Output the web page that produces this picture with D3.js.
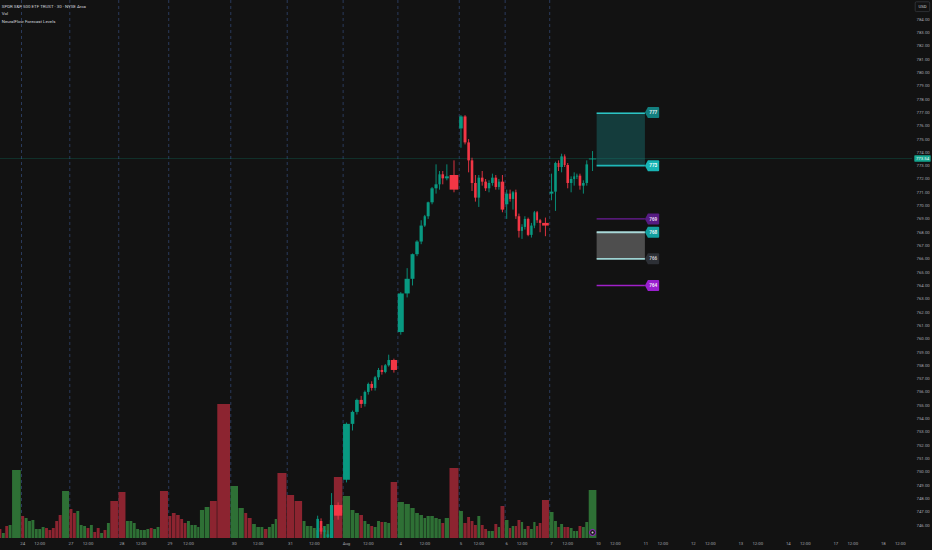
<!DOCTYPE html>
<html><head><meta charset="utf-8">
<script src="https://cdn.jsdelivr.net/npm/d3@7"></script>
<style>html,body{margin:0;padding:0;background:#121212;overflow:hidden}svg{display:block}</style>
</head><body>
<svg id="c" width="932" height="550"></svg>
<script>
// ---------------- DATA ----------------
const sessions = ["23","24","27","28","29","30","31","Aug","4","5","6","7"];
// bar duration (in 30-min slot units) per session
const spans = [
  [1,1,1,1,2.7],
  [1,1,1,1,1,1,1,1,1,1,1,1,2.2],
  [1,1,1,1,1,1,1,1,1,1,1,1,2.4],
  [2.2,1,1,1,1,1,1,1,1,1,1,2.5],
  [1,1.25,1.2,1,1,1,1,1,0.8,1.4,1.55,2.15,3.9],
  [2.35,1.7,1,1.3,1.25,1.2,1,1.2,1,1,0.8,2.8],
  [2.25,2.35,1,1,1,1,1,1,1,1,1.2,2.65],
  [2.25,1.3,1.3,1.2,1,1,1,1,1,1,1,1,2.05],
  [2,1.75,1.4,1.25,1.2,0.9,1.1,1.2,1.15,0.9,1,1.4,2.8],
  [1.3,1.1,1,1,1,1,1,1,1,1,1,0.8,1.3],
  [1.2,0.8,0.9,0.8,1,0.8,0.9,1,0.95,0.8,0.8,0.95,2.2],
  [1.35,1,0.8,1,0.8,1,1,0.8,0.8,1,1,1,2.4]
];
// volume (100k shares)
const volumes = [
  [9,5,12,13,68],
  [22,20,17,18,9,9,11,10,8,10,17,23,47],
  [29,25,27,13,12,10,13,6,10,5,8,15,37],
  [46,17,17,15,9,8,8,9,10,9,11,47],
  [22,25,23,19,15,17,13,13,11,28,31,37,134],
  [52,30,25,20,14,11,11,9,11,14,19,65],
  [43,37,17,12,12,10,8,10,12,14,18,61],
  [42,28,25,23,17,14,12,11,17,16,16,15,56],
  [36,34,30,25,23,20,22,22,20,19,15,20,70],
  [27,15,21,17,13,22,13,9,7,7,14,11,32],
  [18,10,12,12,18,16,9,12,9,16,12,15,38],
  [26,17,11,14,11,11,10,7,7,12,11,16,48]
];
// up(1)/down(-1) for sessions whose candles are below the visible price range
const volDirs = [
  [-1,1,-1,1,1],
  [-1,1,1,1,1,1,1,-1,-1,-1,-1,-1,1],
  [-1,-1,1,1,1,-1,1,-1,-1,1,-1,1,-1],
  [-1,1,1,1,1,1,1,1,-1,1,1,-1],
  [-1,-1,-1,-1,-1,1,1,1,1,1,1,-1,-1],
  [1,1,-1,-1,1,1,1,-1,1,1,1,-1]
];
// OHLC [open, high, low, close]
const candlesJul31 = [[744.2,744.4,742.3,742.6],[742.6,743.0,741.7,742.0],[742.0,742.8,741.8,742.6],[742.6,743.2,742.4,743.0],
  [743.0,743.6,742.8,743.4],[743.4,744.8,743.2,744.6],[744.6,746.7,744.4,746.46],[746.3,746.5,745.3,745.5],
  [745.5,745.9,745.0,745.6],[745.1,745.6,744.8,745.3],[745.0,748.4,744.9,747.5],[747.5,747.7,746.4,746.7]];
const candlesAug3 = [[749.4,753.7,749.2,753.6],[753.6,754.6,753.1,754.5],[754.5,755.5,754.3,755.4],[755.4,755.7,754.8,755.1],
  [755.1,756.1,754.9,756.0],[756.0,756.7,755.8,756.6],[756.6,756.8,756.1,756.3],[756.3,757.2,756.1,757.1],
  [757.1,757.8,756.9,757.65],[757.65,758.0,757.3,757.5],[757.5,758.1,757.4,758.0],[758.0,758.8,757.9,758.4],[758.4,758.5,757.45,757.65]];
const candlesAug4 = [[760.5,763.5,760.3,763.4],[763.4,765.3,763.1,764.5],[764.5,766.4,764.0,766.35],[766.35,767.4,766.2,767.3],
  [767.3,768.9,767.1,768.5],[768.5,769.3,768.4,769.2],[769.2,770.3,769.0,770.25],[770.25,771.4,770.1,771.3],
  [771.3,773.1,770.9,771.6],[771.6,772.6,771.2,772.35],[772.35,772.6,771.6,772.05],[772.05,773.1,771.9,772.2],[772.3,773.4,771.0,771.2]];
const candlesAug5 = [[775.8,776.8,774.35,776.7],[776.7,776.8,774.6,774.75],[774.75,775.0,772.5,773.4],[773.4,773.6,771.1,771.7],
  [771.7,772.3,770.3,770.6],[770.6,772.3,769.9,772.1],[772.1,772.6,771.5,771.8],[771.8,772.0,771.1,771.3],
  [771.3,771.9,771.0,771.7],[771.7,772.4,771.5,772.1],[772.1,772.3,771.2,771.4],[771.4,772.0,771.2,771.8],[771.8,772.3,769.5,769.7]];
const candlesAug6 = [[770.1,771.2,769.0,770.9],[770.9,771.2,770.3,770.5],[770.5,771.1,769.7,771.0],[771.0,771.2,769.0,769.2],
  [769.2,769.4,767.6,768.1],[768.1,768.6,767.5,768.4],[768.4,769.2,768.2,769.0],[769.0,769.1,767.7,767.8],
  [767.8,768.7,767.6,768.5],[768.5,769.6,768.3,769.5],[769.5,769.6,768.7,768.9],[768.9,769.0,768.0,768.7],[768.7,769.1,767.7,768.5]];
const candlesAug7 = [[770.9,772.4,770.4,771.05],[771.05,773.3,769.6,773.2],[773.2,773.4,772.6,772.9],[772.9,773.9,772.5,773.7],
  [773.7,773.85,772.9,773.05],[773.05,773.2,771.3,771.7],[771.7,772.2,771.0,772.0],[772.0,772.5,771.5,772.2],
  [772.2,772.4,772.0,772.25],[772.25,772.4,771.2,771.5],[771.5,771.9,770.9,771.7],[771.7,773.4,771.5,773.1],[773.5,774.1,772.6,773.54]];
const candleSets = [candlesJul31,candlesAug3,candlesAug4,candlesAug5,candlesAug6,candlesAug7];
const futureSessions = ["10","11","12","13","14","17","18"];
const futureSessionSpan = 13.97;
const lastPrice = 773.54;
const priceTicks = d3.range(746, 785, 1);
// forecast levels
const zoneUpper = [773, 777];
const zoneLower = [766, 768];
const levelLines = [769, 764];
const tagValues = [777, 773, 769, 768, 766, 764];
const tagLabels = ["777","773","769","768","766","764"];
const forecastSpan = 14.2;
const legendLines = ["SPDR S&P 500 ETF TRUST · 30 · NYSE Arca","Vol","NeuralFlow Forecast Levels"];

// ---------------- LAYOUT ----------------
const W=932, H=550, plotR=912, plotB=538, pxPerUnit=3.4, firstSepX=21;
const FONT="Roboto, 'Liberation Sans', sans-serif";
const UP="#089981", DN="#f23645", VUP="#2e7035", VDN="#8c2430";
const svg=d3.select("#c");
svg.append("rect").attr("width",W).attr("height",H).attr("fill","#121212");

const bars=[]; const sessStart=[];
let u=-d3.sum(spans[0]);
const candleFrom = sessions.indexOf("31");
sessions.forEach((s,si)=>{
  sessStart.push(u);
  spans[si].forEach((sp,bi)=>{
    const c = si>=candleFrom ? candleSets[si-candleFrom][bi] : null;
    const dir = c ? (c[3]>=c[0]?1:-1) : volDirs[si][bi];
    bars.push({si,bi,u0:u,u1:u+sp,vol:volumes[si][bi],dir,c});
    u+=sp;
  });
});
const uEnd=u;
const uLeft=-firstSepX/pxPerUnit;
const x=d3.scaleLinear().domain([uLeft, uLeft+plotR/pxPerUnit]).range([0,plotR]);
const y=d3.scaleLinear().domain([746,784]).range([525,19.3]);
const yv=d3.scaleLinear().domain([0,d3.max(bars,d=>d.vol)]).range([plotB,plotB-134]);

const defs=svg.append("defs");
defs.append("clipPath").attr("id","plot").append("rect").attr("x",0).attr("y",0).attr("width",plotR).attr("height",plotB);
const plot=svg.append("g").attr("clip-path","url(#plot)");

// session separators
plot.selectAll("line.sep").data(sessStart.slice(1)).join("line")
  .attr("x1",d=>x(d)+0.5).attr("x2",d=>x(d)+0.5).attr("y1",0).attr("y2",plotB)
  .attr("stroke","#2a3a5c").attr("stroke-width",1).attr("stroke-dasharray","3,3");

// current price line
plot.append("line").attr("x1",0).attr("x2",plotR).attr("y1",y(lastPrice)).attr("y2",y(lastPrice))
  .attr("stroke",UP).attr("stroke-opacity",0.22).attr("stroke-width",1);

// volume
plot.selectAll("rect.vol").data(bars).join("rect")
  .attr("x",d=>x(d.u0)+0.25).attr("width",d=>Math.max(0.6,x(d.u1)-x(d.u0)-0.5))
  .attr("y",d=>yv(d.vol)).attr("height",d=>plotB-yv(d.vol))
  .attr("fill",d=>d.dir>0?VUP:VDN);

// candles
const cb=bars.filter(d=>d.c);
plot.selectAll("line.wick").data(cb).join("line")
  .attr("x1",d=>x((d.u0+d.u1)/2)).attr("x2",d=>x((d.u0+d.u1)/2))
  .attr("y1",d=>y(d.c[1])).attr("y2",d=>y(d.c[2]))
  .attr("stroke",d=>d.c[3]>=d.c[0]?UP:DN).attr("stroke-width",0.9);
plot.selectAll("rect.body").data(cb).join("rect")
  .attr("x",d=>x(d.u0)+0.4).attr("width",d=>Math.max(1.2,x(d.u1)-x(d.u0)-0.8))
  .attr("y",d=>y(Math.max(d.c[0],d.c[3])))
  .attr("height",d=>Math.max(0.9,Math.abs(y(d.c[0])-y(d.c[3]))))
  .attr("fill",d=>d.c[3]>=d.c[0]?UP:DN);

// event marker at last bar
const lb=bars[bars.length-1];
plot.append("circle").attr("cx",x((lb.u0+lb.u1)/2)).attr("cy",plotB-5.5).attr("r",3)
  .attr("fill","#1b1b1b").attr("stroke","#a020d0").attr("stroke-width",1);
plot.append("circle").attr("cx",x((lb.u0+lb.u1)/2)).attr("cy",plotB-5.5).attr("r",1)
  .attr("fill","#cfcfcf");

// forecast zones
const fx0=x(uEnd), fx1=x(uEnd+forecastSpan);
plot.append("rect").attr("x",fx0).attr("width",fx1-fx0).attr("y",y(zoneUpper[1])).attr("height",y(zoneUpper[0])-y(zoneUpper[1]))
  .attr("fill","#1a8c8c").attr("fill-opacity",0.35);
plot.append("line").attr("x1",fx0).attr("x2",fx1).attr("y1",y(zoneUpper[1])+0.8).attr("y2",y(zoneUpper[1])+0.8)
  .attr("stroke","#2cc4c4").attr("stroke-width",1.7);
plot.append("line").attr("x1",fx0).attr("x2",fx1).attr("y1",y(zoneUpper[0])).attr("y2",y(zoneUpper[0]))
  .attr("stroke","#1fb8b8").attr("stroke-width",1.7);
plot.append("rect").attr("x",fx0).attr("width",fx1-fx0).attr("y",y(zoneLower[1])).attr("height",y(zoneLower[0])-y(zoneLower[1]))
  .attr("fill","#4e4e4e");
plot.append("line").attr("x1",fx0).attr("x2",fx1).attr("y1",y(zoneLower[1])).attr("y2",y(zoneLower[1]))
  .attr("stroke","#a9d8d8").attr("stroke-width",1.8);
plot.append("line").attr("x1",fx0).attr("x2",fx1).attr("y1",y(zoneLower[0])).attr("y2",y(zoneLower[0]))
  .attr("stroke","#9ed3d3").attr("stroke-width",1.6);
const lineCols=["#6c1c9a","#a020c8"];
levelLines.forEach((v,i)=>{
  plot.append("line").attr("x1",fx0).attr("x2",fx1).attr("y1",y(v)).attr("y2",y(v))
    .attr("stroke",lineCols[i]).attr("stroke-width",1.4);
});
// tags
const tagCols=["#137f7f","#18b4b4","#561b82","#14a0a0","#2c2f35","#9a1fcf"];
const tagText=["#e6f4f4","#eaffff","#e8dcf2","#e6f4f4","#c8c8c8","#f4e6fa"];
tagValues.forEach((v,i)=>{
  const yc=y(v), hh=5.5, tw=14.3;
  const g=svg.append("g");
  g.append("path").attr("d",`M${fx1},${yc} L${fx1+3},${yc-hh} L${fx1+tw-1},${yc-hh} Q${fx1+tw},${yc-hh} ${fx1+tw},${yc-hh+1} L${fx1+tw},${yc+hh-1} Q${fx1+tw},${yc+hh} ${fx1+tw-1},${yc+hh} L${fx1+3},${yc+hh} Z`)
    .attr("fill",tagCols[i]);
  g.append("text").attr("x",fx1+8.4).attr("y",yc).attr("dy","0.35em").attr("text-anchor","middle")
    .attr("font-family",FONT).attr("font-size",4.6).attr("font-weight","bold").attr("fill",tagText[i]).text(tagLabels[i]);
});

// right price axis
svg.selectAll("text.pt").data(priceTicks).join("text")
  .attr("x",916.5).attr("y",d=>y(d)).attr("dy","0.35em")
  .attr("font-family",FONT).attr("font-size",4.3).attr("fill","#a3a6af")
  .text(d=>d3.format(".2f")(d));
svg.append("rect").attr("x",914.3).attr("y",y(lastPrice)-3.2).attr("width",16.4).attr("height",6.4).attr("rx",0.6).attr("fill","#15a58f");
svg.append("text").attr("x",922.5).attr("y",y(lastPrice)).attr("dy","0.35em").attr("text-anchor","middle")
  .attr("font-family",FONT).attr("font-size",4.3).attr("fill","#f0fffc").text(d3.format(".2f")(lastPrice));
svg.append("rect").attr("x",915.2).attr("y",1.8).attr("width",14.5).attr("height",9.8).attr("rx",1.2)
  .attr("fill","none").attr("stroke","#3a3d44").attr("stroke-width",0.7);
svg.append("text").attr("x",922.5).attr("y",6.7).attr("dy","0.35em").attr("text-anchor","middle")
  .attr("font-family",FONT).attr("font-size",4.3).attr("fill","#c9ccd3").text("USD");

// time axis labels
const ticks=[];
sessions.forEach((s,si)=>{
  const bs=bars.filter(b=>b.si===si);
  ticks.push({t:s,u:(bs[0].u0+bs[0].u1)/2});
  if(bs[5]) ticks.push({t:"12:00",u:(bs[5].u0+bs[5].u1)/2});
});
futureSessions.forEach((s,k)=>{
  const st=uEnd+k*futureSessionSpan;
  ticks.push({t:s,u:st+0.5});
  ticks.push({t:"12:00",u:st+5.5});
});
svg.selectAll("text.xt").data(ticks.filter(d=>x(d.u)>3&&x(d.u)<plotR-4)).join("text")
  .attr("x",d=>x(d.u)).attr("y",543.5).attr("dy","0.35em").attr("text-anchor","middle")
  .attr("font-family",FONT).attr("font-size",4.3).attr("fill","#a3a6af").text(d=>d.t);

// legend
svg.selectAll("text.lg").data(legendLines).join("text")
  .attr("x",1.8).attr("y",(d,i)=>6.4+i*7.5).attr("dy","0.35em")
  .attr("font-family",FONT).attr("font-size",4.4).attr("fill","#d1d4dc").text(d=>d);
</script>
</body></html>
